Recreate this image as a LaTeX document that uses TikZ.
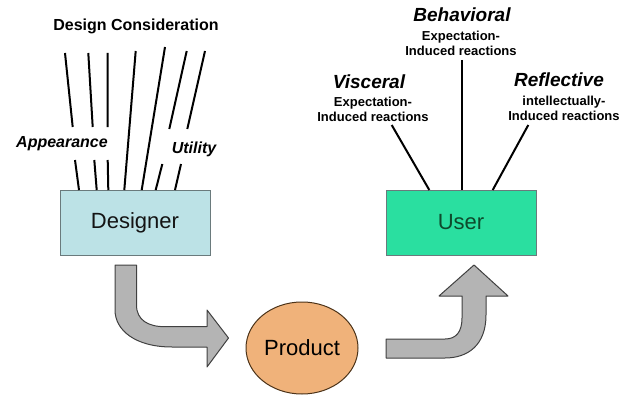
\documentclass[tikz,border=0pt]{standalone}
\usepackage{fontspec}
\setmainfont{Liberation Sans}
\usetikzlibrary{shapes.geometric}
\definecolor{designerfill}{HTML}{BCE2E6}
\definecolor{userfill}{HTML}{2ADFA0}
\definecolor{usertext}{HTML}{0E4A2C}
\definecolor{productfill}{HTML}{F0B27A}
\definecolor{arrowfill}{HTML}{B4B4B4}
\definecolor{boxline}{HTML}{6A7A7C}
\begin{document}
\begin{tikzpicture}[x=1pt,y=-1pt,
  box/.style={draw=boxline, line width=1pt, minimum width=150pt, minimum height=65pt, inner sep=0pt, font=\fontsize{22}{24}\selectfont},
  ray/.style={line width=2pt, black},
  head/.style={font=\fontsize{19}{21}\selectfont\bfseries\itshape},
  sub/.style={font=\fontsize{13}{15}\selectfont\bfseries, align=center},
  factor/.style={font=\fontsize{16}{18}\selectfont\bfseries\itshape},
  bigarrow/.style={draw=black!75, line width=1pt, fill=arrowfill, line join=round}]
\useasboundingbox (0,0) rectangle (632,396);

% boxes
\node[box, fill=designerfill, text=black!92] (designer) at (135,222.5) {Designer};
\node[box, fill=userfill, text=usertext] (user) at (461,222.5) {User};
\node[draw=black!60!brown, line width=1pt, ellipse, minimum width=112pt, minimum height=92pt, inner sep=0pt, fill=productfill, font=\fontsize{22}{24}\selectfont] (product) at (302,348) {Product};

% labels
\node[font=\fontsize{16}{18}\selectfont\bfseries] (dc) at (136,26) {Design Consideration};
\node[factor] (appearance) at (62,144) {Appearance};
\node[factor] (utility) at (194,149) {Utility};

\node[head] (behavioral) at (462,15) {Behavioral};
\node[sub] (behsub) at (461,43) {Expectation-\\Induced reactions};
\node[head] (visceral) at (369,82) {Visceral};
\node[sub] (vissub) at (373,109) {Expectation-\\Induced reactions};
\node[head] (reflective) at (559,80) {Reflective};
\node[sub] (refsub) at (564,108) {intellectually-\\Induced reactions};

% design consideration rays
\coordinate (a1) at (65,53);   \coordinate (a1m) at (72.7,127);
\coordinate (a1n) at (75,160); \coordinate (a1b) at (79,190);
\coordinate (a2) at (88.3,53); \coordinate (a2m) at (92.7,127);
\coordinate (a2n) at (94.3,160); \coordinate (a2b) at (96.7,190);
\coordinate (a3) at (107.7,53); \coordinate (a3m) at (107.7,127);
\coordinate (a3n) at (107.7,160); \coordinate (a3b) at (108.3,190);
\coordinate (a4) at (135.7,51); \coordinate (a4b) at (124.3,190);
\coordinate (a5) at (165,47);   \coordinate (a5b) at (141.7,190);
\coordinate (a6) at (186.7,51); \coordinate (a6m) at (169.3,129);
\coordinate (a6n) at (162.3,164); \coordinate (a6b) at (155.7,190);
\coordinate (a7) at (205,51);   \coordinate (a7m) at (187.3,129);
\coordinate (a7n) at (181,164); \coordinate (a7b) at (175,190);
\draw[ray] (a1) -- (a1m) (a1n) -- (a1b);
\draw[ray] (a2) -- (a2m) (a2n) -- (a2b);
\draw[ray] (a3) -- (a3m) (a3n) -- (a3b);
\draw[ray] (a4) -- (a4b);
\draw[ray] (a5) -- (a5b);
\draw[ray] (a6) -- (a6m) (a6n) -- (a6b);
\draw[ray] (a7) -- (a7m) (a7n) -- (a7b);

% user rays
\coordinate (uv) at (391.7,125); \coordinate (uvb) at (429.3,190);
\coordinate (ub) at (461.5,60);  \coordinate (ubb) at (461.5,190);
\coordinate (ur) at (528.3,125); \coordinate (urb) at (492.7,190);
\draw[ray] (uv) -- (uvb);
\draw[ray] (ub) -- (ubb);
\draw[ray] (ur) -- (urb);

% big arrows
\draw[bigarrow] (115,265) -- (136.5,265) -- (136.5,305)
  .. controls (136.5,320) and (148,326.7) .. (165,326.7)
  -- (207,326.7) -- (207,310) -- (228.5,338) -- (207,367) -- (207,347) -- (172,347)
  .. controls (135,347) and (115,330) .. (115,310) -- cycle;
\draw[bigarrow] (386,339) -- (445,339)
  .. controls (456,339) and (462,332) .. (462,318)
  -- (462,296) -- (439,296) -- (474,265) -- (508,296) -- (486,296) -- (486,315)
  .. controls (486,345) and (468,358) .. (445,358) -- (386,358) -- cycle;
\end{tikzpicture}
\end{document}
